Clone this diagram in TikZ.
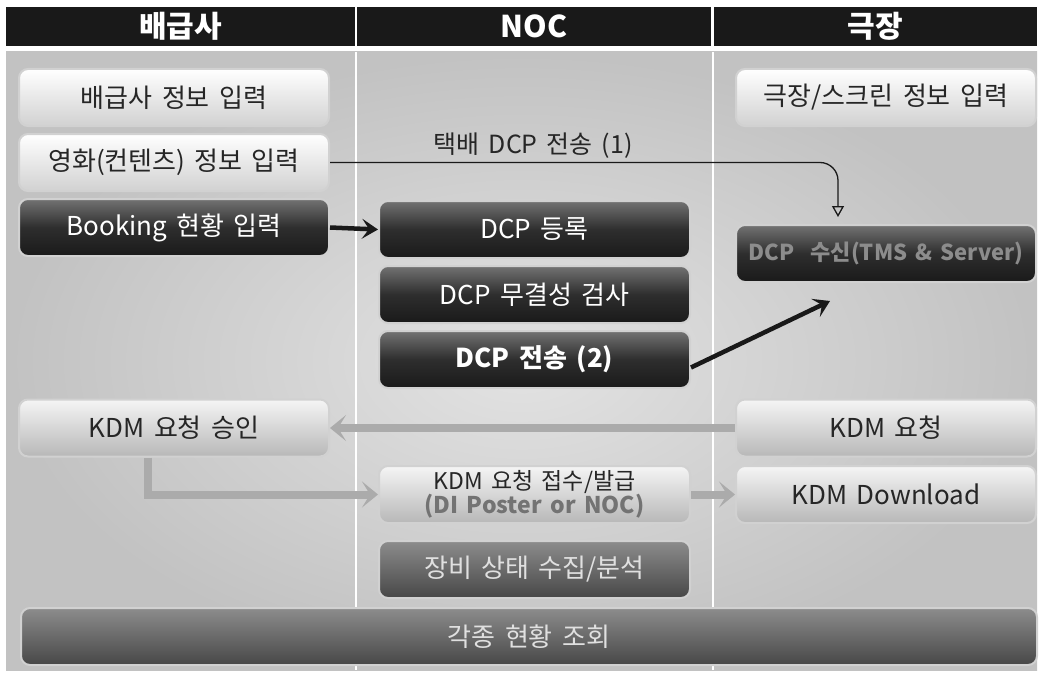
\documentclass[tikz,border=0pt]{standalone}
\usepackage{fontspec}
\setmainfont[WordSpace=1.6]{Noto Sans CJK KR}
\usetikzlibrary{positioning,arrows.meta}

\begin{document}
\begin{tikzpicture}[x=1pt, y=-1pt, node distance=6pt]
	% Node style
	\tikzstyle{headbar} = [rectangle, fill=black!90, text=white, font=\fontsize{30}{32}\selectfont\bfseries, minimum height=39pt, inner sep=0pt]
	\tikzstyle{procbox} = [rectangle, rounded corners=9pt, draw=white!82!black, line width=2pt, minimum height=57pt, inner sep=0pt, font=\fontsize{26}{28}\selectfont, align=center]
	\tikzstyle{whitebox} = [procbox, top color=white, bottom color=black!18, text=black!85]
	\tikzstyle{darkbox} = [procbox, top color=black!55, bottom color=black!90, middle color=black!82, text=white]
	\tikzstyle{lightbox} = [procbox, top color=black!4, bottom color=black!28, text=black!85]
	\tikzstyle{midbox} = [procbox, top color=black!45, bottom color=black!72, text=black!12]
	\tikzstyle{thickarrow} = [-{Stealth[length=16pt, width=20pt, inset=7pt]}, line width=4.5pt, black!90]
	\tikzstyle{grayarrow} = [-{Stealth[length=16pt, width=26pt, inset=8pt]}, line width=8pt, black!33]
	\tikzstyle{thinarrow} = [-{Triangle[open, length=11pt, width=12pt]}, line width=1.3pt, black!90, rounded corners=18pt]

	\useasboundingbox (0,0) rectangle (1043,674);

	% Background
	\shade[inner color=black!11, outer color=black!24] (6,52) rectangle (1037,670);
	\draw[white, line width=1.5pt] (356,52) -- (356,670);
	\draw[white, line width=1.5pt] (713,52) -- (713,670);

	% Headers
	\node[headbar, minimum width=349pt] (disthead) at (180.5,26.5) {배급사};
	\node[headbar, minimum width=354pt] (nochead) at (534,26.5) {NOC};
	\node[headbar, minimum width=323pt] (theaterhead) at (875.5,26.5) {극장};

	% Nodes
	\node[whitebox, minimum width=310pt] (distinfo) at (174,97.5) {배급사 정보 입력};
	\node[whitebox, minimum width=310pt, below=of distinfo] (movieinfo) {영화(컨텐츠) 정보 입력};
	\node[darkbox, minimum width=310pt, below=of movieinfo] (booking) {Booking 현황 입력};
	\node[lightbox, minimum width=310pt] (kdmapprove) at (174,428) {KDM 요청 승인};

	\node[darkbox, minimum width=311pt] (dcpreg) at (534.5,229.5) {DCP 등록};
	\node[darkbox, minimum width=311pt, below=of dcpreg] (dcpcheck) {DCP 무결성 검사};
	\node[darkbox, minimum width=311pt, below=of dcpcheck] (dcpsend) {\bfseries DCP 전송 (2)};
	\node[lightbox, minimum width=311pt, font=\fontsize{23}{24}\selectfont] (kdmissue) at (534.5,494.5) {KDM 요청 접수/발급\\{\bfseries\color{black!55}(DI Poster or NOC)}};
	\node[midbox, minimum width=311pt, below=16pt of kdmissue] (equip) {장비 상태 수집/분석};

	\node[whitebox, minimum width=300pt] (theaterinfo) at (886,97.5) {극장/스크린 정보 입력};
	\node[darkbox, minimum width=300pt, text=black!45, font=\fontsize{22}{24}\selectfont\bfseries] (dcprecv) at (886,253.5) {DCP\ \ 수신(TMS \& Server)};
	\node[lightbox, minimum width=300pt] (kdmreq) at (886,428) {KDM 요청};
	\node[lightbox, minimum width=300pt] (kdmdown) at (886,494.5) {KDM Download};

	\node[midbox, minimum width=1016pt] (status) at (529,636.5) {각종 현황 조회};

	% Arrows
	\draw[thinarrow] (movieinfo.east) -| ([xshift=-48pt, yshift=7pt]dcprecv.north)
		node[pos=0.2, above, font=\fontsize{25}{26}\selectfont, text=black!85] (courierlabel) {택배 DCP 전송 (1)};
	\draw[thickarrow] (booking.east) -- (dcpreg.west);
	\draw[thickarrow] ([yshift=-8pt]dcpsend.east) -- ([xshift=-56pt, yshift=-18pt]dcprecv.south);
	\draw[grayarrow] (kdmreq.west) -- (kdmapprove.east);
	\draw[grayarrow] ([xshift=-26pt]kdmapprove.south) |- (kdmissue.west);
	\draw[grayarrow] (kdmissue.east) -- (kdmdown.west);
\end{tikzpicture}
\end{document}
